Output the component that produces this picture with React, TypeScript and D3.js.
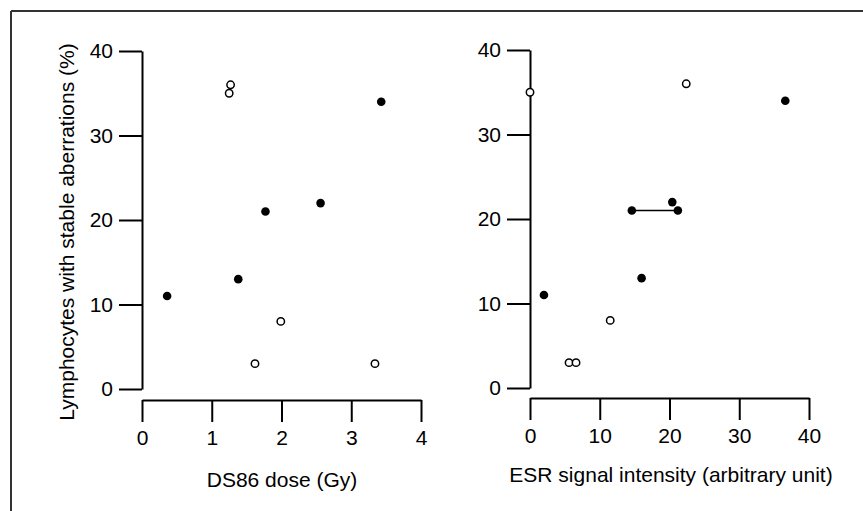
import React, { useEffect, useRef } from "react";
import * as d3 from "d3";

// left panel: DS86 dose (Gy) vs aberrations (%)
const doseFilled = [0.36, 1.38, 1.77, 2.56, 3.43];
const doseFilledY = [11, 13, 21, 22, 34];
const doseOpen = [1.25, 1.27, 1.62, 1.99, 3.34];
const doseOpenY = [35, 36, 3, 8, 3];

// right panel: ESR signal intensity vs aberrations (%)
const esrFilled = [2.0, 16.0, 14.6, 21.2, 20.4, 36.6];
const esrFilledY = [11, 13, 21, 21, 22, 34];
const esrOpen = [0, 22.4, 11.5, 5.6, 6.6];
const esrOpenY = [35, 36, 8, 3, 3];
// horizontal range bar joining two ESR readings of one donor
const esrRange = [14.6, 21.2];
const esrRangeY = 21;

const yTicks = [0, 10, 20, 30, 40];
const doseTicks = [0, 1, 2, 3, 4];
const esrTicks = [0, 10, 20, 30, 40];

const FONT = "Liberation Sans, Arial, Helvetica, sans-serif";

export default function App() {
  const ref = useRef<SVGSVGElement>(null);

  useEffect(() => {
    const svg = d3.select(ref.current);
    svg.selectAll("*").remove();

    // frame (top and left edges only)
    svg.append("line").attr("x1", 11).attr("x2", 863).attr("y1", 11).attr("y2", 11)
      .attr("stroke", "#333").attr("stroke-width", 2);
    svg.append("line").attr("x1", 11).attr("x2", 11).attr("y1", 11).attr("y2", 511)
      .attr("stroke", "#333").attr("stroke-width", 2);

    const panel = (
      yAxisX: number, yTop: number, yBottom: number, xAxisY: number, xRight: number,
      xDomain: number[], xTicks: number[], label: string, labelX: number, labelY: number,
      fx: number[], fy: number[], ox: number[], oy: number[],
    ) => {
      const x = d3.scaleLinear().domain(xDomain).range([yAxisX, xRight]);
      const y = d3.scaleLinear().domain([0, 40]).range([yBottom, yTop]);

      const ga = svg.append("g").attr("transform", `translate(${yAxisX},0)`)
        .call(d3.axisLeft(y).tickValues(yTicks).tickFormat(d3.format("d"))
          .tickSize(23).tickSizeOuter(0).tickPadding(6));
      const gb = svg.append("g").attr("transform", `translate(0,${xAxisY})`)
        .call(d3.axisBottom(x).tickValues(xTicks).tickFormat(d3.format("d"))
          .tickSize(22).tickSizeOuter(0).tickPadding(8));
      [ga, gb].forEach((g) => {
        g.selectAll("path, line").attr("stroke", "#000").attr("stroke-width", 2);
        g.selectAll("text").attr("font-family", FONT).attr("font-size", 21).attr("fill", "#000");
      });

      svg.append("text").attr("x", labelX).attr("y", labelY).attr("text-anchor", "middle")
        .attr("font-family", FONT).attr("font-size", 21).text(label);

      svg.append("g").attr("class", "dots").selectAll("circle").data(fx).enter().append("circle")
        .attr("cx", (d) => x(d)).attr("cy", (d, i) => y(fy[i])).attr("r", 4.3).attr("fill", "#000");
      svg.append("g").attr("class", "dots").selectAll("circle").data(ox).enter().append("circle")
        .attr("cx", (d) => x(d)).attr("cy", (d, i) => y(oy[i])).attr("r", 3.7)
        .attr("fill", "#fff").attr("stroke", "#000").attr("stroke-width", 1.5);
      return { x, y };
    };

    panel(142, 51, 389, 400, 421, [0, 4], doseTicks, "DS86 dose (Gy)", 282, 487,
      doseFilled, doseFilledY, doseOpen, doseOpenY);
    const r = panel(530, 50, 388, 398, 809, [0, 40], esrTicks,
      "ESR signal intensity (arbitrary unit)", 671, 482,
      esrFilled, esrFilledY, esrOpen, esrOpenY);

    svg.append("line")
      .attr("x1", r.x(esrRange[0])).attr("x2", r.x(esrRange[1]))
      .attr("y1", r.y(esrRangeY)).attr("y2", r.y(esrRangeY))
      .attr("stroke", "#000").attr("stroke-width", 1.5);
    svg.selectAll("g.dots").raise();

    svg.append("text").attr("transform", "translate(74,232) rotate(-90)")
      .attr("text-anchor", "middle").attr("font-family", FONT).attr("font-size", 21)
      .text("Lymphocytes with stable aberrations (%)");
  }, []);

  return (
    <svg ref={ref} width={863} height={511}
      style={{ position: "absolute", left: 0, top: 0, background: "#fff" }} />
  );
}
